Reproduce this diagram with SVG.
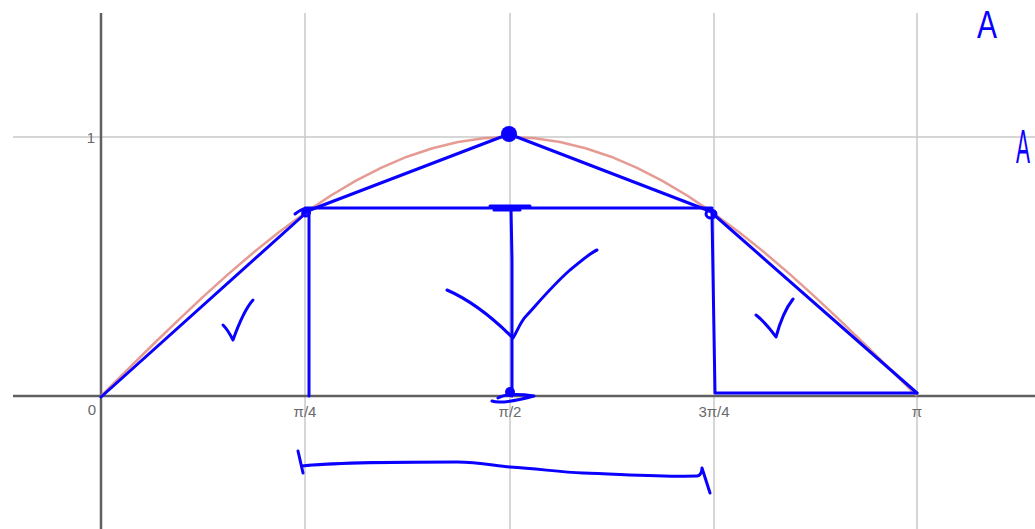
<svg xmlns="http://www.w3.org/2000/svg" width="1035" height="529" viewBox="0 0 1035 529">
<style>
.grid{stroke:#c8c8c8;stroke-width:1.5;fill:none}
.axis{stroke:#606060;stroke-width:2.5;fill:none}
.lbl{font-family:"Liberation Sans",Arial,sans-serif;font-size:15px;fill:#6a6a6a;text-anchor:middle}
.ink{stroke:#0a00ff;stroke-width:3;fill:none;stroke-linecap:round;stroke-linejoin:round}
.hand{font-family:"Liberation Sans",Arial,sans-serif;fill:#0a00ff;font-size:30px}
</style>
<rect width="1035" height="529" fill="#fff"/>
<g id="grid">
<line class="grid" x1="305" y1="13" x2="305" y2="529"/>
<line class="grid" x1="510" y1="13" x2="510" y2="529"/>
<line class="grid" x1="714" y1="13" x2="714" y2="529"/>
<line class="grid" x1="917" y1="13" x2="917" y2="529"/>
<line class="grid" x1="13" y1="137" x2="1035" y2="137"/>
</g>
<g id="axes">
<line class="axis" x1="101" y1="13" x2="101" y2="529"/>
<line class="axis" x1="13" y1="396" x2="1035" y2="396"/>
</g>
<g id="labels">
<text class="lbl" x="91" y="143">1</text>
<text class="lbl" x="92" y="415">0</text>
<text class="lbl" x="305" y="417">π/4</text>
<text class="lbl" x="510" y="417">π/2</text>
<text class="lbl" x="714" y="417">3π/4</text>
<text class="lbl" x="917" y="417">π</text>
</g>
<g id="sine">
<polyline fill="none" stroke="#e08a80" stroke-width="2.5" opacity="0.85" stroke-linejoin="round" points="101,396 126.5,370.6 152,345.5 177.5,320.8 203,296.9 228.5,273.9 254,252.1 279.5,231.7 305,212.9 330.5,195.8 356,180.6 381.5,167.6 407,156.7 432.5,148.2 458,142 483.5,138.2 509,137 534.5,138.2 560,142 585.5,148.2 611,156.7 636.5,167.6 662,180.6 687.5,195.8 713,212.9 738.5,231.7 764,252.1 789.5,273.9 815,296.9 840.5,320.8 866,345.5 891.5,370.6 917,396"/>
</g>
<g id="connectors">
<path class="ink" d="M101,397 L307,212"/>
<path class="ink" d="M309,213 L309,396"/>
<path class="ink" d="M305,208 L712,208"/>
<path class="ink" d="M305,212 L509,134 L712,212"/>
<path class="ink" d="M511,208 L512,260 L512,396"/>
<path class="ink" d="M712,214 L715,393 L719,393 L917,393"/>
<path class="ink" d="M712,213 L917,393"/>
</g>
<g id="points">
<circle cx="509" cy="134" r="8" fill="#0a00ff"/>
<path class="ink" d="M295,214 C300,210 304,208 307,209 C311,211 310,216 305,216 C301,215 302,210 308,210"/>
<ellipse class="ink" cx="711" cy="214" rx="5" ry="4"/>
<path class="ink" d="M490,206 L530,206 M494,210 L520,210"/>
<circle cx="510" cy="392" r="5" fill="#0a00ff"/>
<path class="ink" d="M492,401 C500,404 515,401 534,396 C520,394 505,394 498,398"/>
</g>
<g id="marks">
<path class="ink" d="M223,325 C228,330 231,336 233,340 C238,326 244,310 253,300"/>
<path class="ink" d="M756,315 C765,322 771,330 776,337 C780,322 786,308 793,299"/>
<path class="ink" d="M447,290 C470,300 495,320 513,338 C518,330 520,322 527,315 C538,303 553,285 570,270 C580,262 590,253 597,250"/>
<path class="ink" d="M298,451 L303,473 M302,466 C340,462 400,462 457,462 C480,462 495,466 510,467 C540,469 560,472 583,473 C620,474 660,477 697,476 C700,476 702,472 702,468 M702,468 L710,493"/>
</g>
<g id="notes">
<text class="hand" transform="translate(977,38) scale(1,1.3)">A</text>
<text class="hand" transform="translate(1016,163) scale(0.7,1.6)" font-size="28">A</text>
</g>
</svg>
